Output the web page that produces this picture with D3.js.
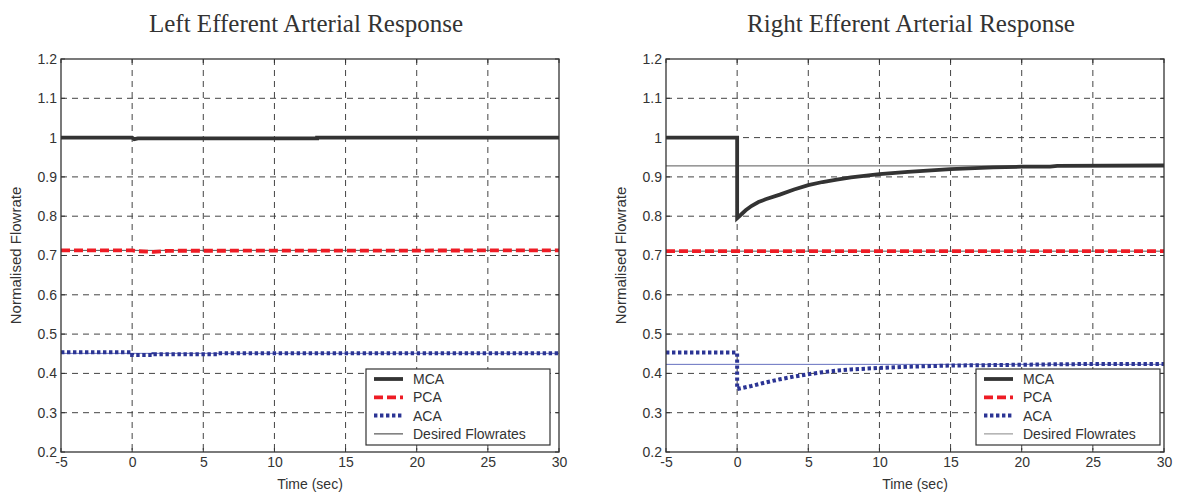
<!DOCTYPE html>
<html>
<head>
<meta charset="utf-8">
<script src="https://cdn.jsdelivr.net/npm/d3@7"></script>
<style>
  body { margin: 0; background: #fff; }
  svg { display: block; }
  .tick text { font-family: "Liberation Sans", Arial, sans-serif; font-size: 14px; fill: #333; }
</style>
</head>
<body>
<svg width="1180" height="495"></svg>
<script>
// axis ticks
const timeTicks = [-5, 0, 5, 10, 15, 20, 25, 30];
const flowTicks = [0.2, 0.3, 0.4, 0.5, 0.6, 0.7, 0.8, 0.9, 1, 1.1, 1.2];

const seriesNames = ["MCA", "PCA", "ACA", "Desired Flowrates"];

// left panel, [time, flow]
const leftMCA = [[-5, 1.0], [0, 1.0], [0.15, 0.996], [0.4, 0.998], [13, 0.998], [13, 1.0], [30, 1.0]];
const leftPCA = [[-5, 0.713], [0, 0.713], [0.4, 0.711], [1.5, 0.709], [2.5, 0.712], [30, 0.713]];
const leftACA = [[-5, 0.454], [0, 0.454], [0, 0.447], [1.5, 0.447], [1.5, 0.449], [6, 0.449], [6, 0.451], [30, 0.451]];
const leftDesired = [1.0, 0.713, 0.451];

// right panel
const rightMCA = [[-5, 1.0], [0, 1.0], [0, 0.795], [0.3, 0.805], [0.6, 0.815], [1, 0.826], [1.5, 0.836],
  [2, 0.843], [3, 0.855], [4, 0.868], [5, 0.879], [6, 0.887], [7, 0.893], [8, 0.899], [10, 0.907],
  [12, 0.913], [15, 0.92], [18, 0.924], [20, 0.926], [22, 0.926], [22.5, 0.928], [30, 0.929]];
const rightPCA = [[-5, 0.711], [30, 0.711]];
const rightACA = [[-5, 0.453], [0, 0.453], [0, 0.36], [1, 0.368], [2, 0.377], [3, 0.385], [4, 0.392],
  [5, 0.398], [6, 0.403], [7, 0.407], [8, 0.41], [10, 0.414], [12, 0.417], [15, 0.42], [20, 0.422],
  [22, 0.423], [25, 0.424], [30, 0.424]];
const rightDesired = [0.928, 0.711, 0.423];

const colours = ["#333333", "#ee1c25", "#2b3494"];

const svg = d3.select('svg');

let drawPanel = (cfg) => {
    const x0 = cfg.left, x1 = cfg.left + 498;
    const y0 = 59, y1 = 452;

    const xScale = d3.scaleLinear().domain([-5, 30]).range([x0, x1]);
    const yScale = d3.scaleLinear().domain([0.2, 1.2]).range([y1, y0]);

    const g = svg.append('g');

    // title
    g.append('text')
        .attr('x', (x0 + x1) / 2 - 4)
        .attr('y', 32)
        .attr('text-anchor', 'middle')
        .style('font-family', '"Liberation Serif", "Times New Roman", serif')
        .style('font-size', '25px')
        .style('fill', '#333')
        .text(cfg.title);

    // grid
    g.append('g').selectAll('line').data(timeTicks.slice(1, -1)).enter()
        .append('line')
        .attr('x1', d => xScale(d)).attr('x2', d => xScale(d))
        .attr('y1', y0).attr('y2', y1)
        .attr('stroke', '#444').attr('stroke-width', 1)
        .attr('stroke-dasharray', '6,5');
    g.append('g').selectAll('line').data(flowTicks.slice(1, -1)).enter()
        .append('line')
        .attr('y1', d => yScale(d)).attr('y2', d => yScale(d))
        .attr('x1', x0).attr('x2', x1)
        .attr('stroke', '#444').attr('stroke-width', 1)
        .attr('stroke-dasharray', '6,5');

    // axes
    const xAxis = d3.axisBottom(xScale).tickValues(timeTicks).tickSize(0).tickPadding(5)
        .tickFormat(d => String(d));
    const yAxis = d3.axisLeft(yScale).tickValues(flowTicks).tickSize(0).tickPadding(4)
        .tickFormat(d => String(+d.toFixed(1)));

    g.append('g').attr('transform', 'translate(0,' + y1 + ')').call(xAxis)
        .call(a => a.select('.domain').remove());
    g.append('g').attr('transform', 'translate(' + x0 + ',0)').call(yAxis)
        .call(a => a.select('.domain').remove());

    // little inward ticks on top & right
    g.append('g').selectAll('line').data(timeTicks).enter().append('line')
        .attr('x1', d => xScale(d)).attr('x2', d => xScale(d))
        .attr('y1', y0).attr('y2', y0 + 4).attr('stroke', '#333');
    g.append('g').selectAll('line').data(timeTicks).enter().append('line')
        .attr('x1', d => xScale(d)).attr('x2', d => xScale(d))
        .attr('y1', y1).attr('y2', y1 - 4).attr('stroke', '#333');
    g.append('g').selectAll('line').data(flowTicks).enter().append('line')
        .attr('y1', d => yScale(d)).attr('y2', d => yScale(d))
        .attr('x1', x0).attr('x2', x0 + 4).attr('stroke', '#333');
    g.append('g').selectAll('line').data(flowTicks).enter().append('line')
        .attr('y1', d => yScale(d)).attr('y2', d => yScale(d))
        .attr('x1', x1).attr('x2', x1 - 4).attr('stroke', '#333');

    // axis labels
    g.append('text')
        .attr('x', (x0 + x1) / 2)
        .attr('y', 489)
        .attr('text-anchor', 'middle')
        .style('font-family', '"Liberation Sans", Arial, sans-serif')
        .style('font-size', '14px')
        .style('fill', '#333')
        .text('Time (sec)');
    g.append('text')
        .attr('transform', 'translate(' + (x0 - 40) + ',' + ((y0 + y1) / 2) + ') rotate(-90)')
        .attr('text-anchor', 'middle')
        .style('font-family', '"Liberation Sans", Arial, sans-serif')
        .style('font-size', '15px')
        .style('fill', '#333')
        .text('Normalised Flowrate');

    // clip
    const clipId = 'clip' + cfg.left;
    g.append('clipPath').attr('id', clipId)
        .append('rect').attr('x', x0).attr('y', y0).attr('width', x1 - x0).attr('height', y1 - y0);

    const plot = g.append('g').attr('clip-path', 'url(#' + clipId + ')');

    // desired flowrates (thin)
    plot.selectAll('line.desired').data(cfg.desired).enter()
        .append('line')
        .attr('class', 'desired')
        .attr('x1', x0).attr('x2', x1)
        .attr('y1', d => yScale(d)).attr('y2', d => yScale(d))
        .attr('stroke', (d, i) => i === 2 ? '#5560b8' : '#444')
        .attr('stroke-width', 0.9);

    const line = d3.line().x(d => xScale(d[0])).y(d => yScale(d[1]));

    plot.append('path').datum(cfg.mca)
        .attr('d', line).attr('fill', 'none')
        .attr('stroke', colours[0]).attr('stroke-width', 3.8);
    plot.append('path').datum(cfg.pca)
        .attr('d', line).attr('fill', 'none')
        .attr('stroke', colours[1]).attr('stroke-width', 3.8)
        .attr('stroke-dasharray', '9,4');
    plot.append('path').datum(cfg.aca)
        .attr('d', line).attr('fill', 'none')
        .attr('stroke', colours[2]).attr('stroke-width', 4)
        .attr('stroke-dasharray', '3.4,2.6');

    // box
    g.append('rect')
        .attr('x', x0).attr('y', y0).attr('width', x1 - x0).attr('height', y1 - y0)
        .attr('fill', 'none').attr('stroke', '#333').attr('stroke-width', 1.3);

    // legend
    const lx = cfg.legendX, ly = 369;
    const legend = g.append('g').attr('transform', 'translate(' + lx + ',' + ly + ')');
    legend.append('rect')
        .attr('width', 184).attr('height', 76)
        .attr('fill', '#fff').attr('stroke', '#333').attr('stroke-width', 1.2);

    const dashes = [null, '9,4', '3.4,2.6', null];
    const widths = [3.8, 3.8, 4, 1];
    const sampleCols = [colours[0], colours[1], colours[2], cfg.desiredSample];

    legend.selectAll('line').data(seriesNames).enter().append('line')
        .attr('x1', 8).attr('x2', 37)
        .attr('y1', (d, i) => 10 + i * 18.3).attr('y2', (d, i) => 10 + i * 18.3)
        .attr('stroke', (d, i) => sampleCols[i])
        .attr('stroke-width', (d, i) => widths[i])
        .attr('stroke-dasharray', (d, i) => dashes[i]);
    legend.selectAll('text').data(seriesNames).enter().append('text')
        .attr('x', 47)
        .attr('y', (d, i) => 10 + i * 18.3)
        .attr('dy', '0.35em')
        .style('font-family', '"Liberation Sans", Arial, sans-serif')
        .style('font-size', '14px')
        .style('fill', '#333')
        .text(d => d);
};

drawPanel({ left: 61, title: 'Left Efferent Arterial Response', mca: leftMCA, pca: leftPCA, aca: leftACA,
    desired: leftDesired, legendX: 366, desiredSample: '#333' });
drawPanel({ left: 666, title: 'Right Efferent Arterial Response', mca: rightMCA, pca: rightPCA, aca: rightACA,
    desired: rightDesired, legendX: 976, desiredSample: '#888' });
</script>
</body>
</html>
